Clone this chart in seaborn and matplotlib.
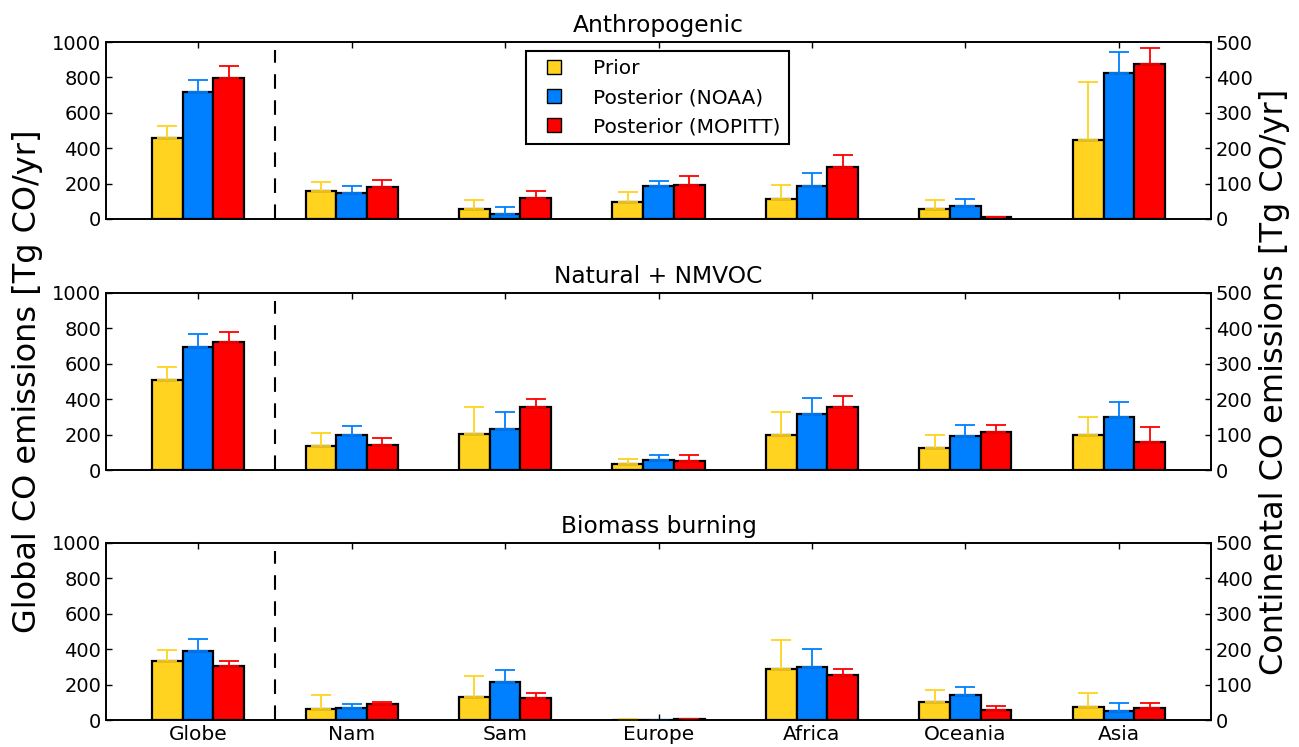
import numpy as np
import pandas as pd
import matplotlib
matplotlib.use("Agg")
import matplotlib.pyplot as plt
import seaborn as sns
from matplotlib.lines import Line2D

# ---------------- data ----------------
regions = ["Globe", "Nam", "Sam", "Europe", "Africa", "Oceania", "Asia"]
series = ["Prior", "Posterior (NOAA)", "Posterior (MOPITT)"]
panel_titles = ["Anthropogenic", "Natural + NMVOC", "Biomass burning"]
colors = ["#FFD320", "#0080FF", "#FF0000"]

# Globe values on the left axis (global), others on the right axis (continental)
anthro_prior = [458, 80, 29, 47, 56, 27, 222]
anthro_prior_err = [70, 24, 24, 29, 39, 26, 166]
anthro_noaa = [715, 74, 13, 93, 93, 37, 413]
anthro_noaa_err = [72, 19, 22, 15, 36, 19, 58]
anthro_mopitt = [795, 91, 58, 96, 147, 5, 437]
anthro_mopitt_err = [67, 20, 20, 25, 33, 2, 47]

natural_prior = [507, 69, 101, 16, 100, 61, 100]
natural_prior_err = [75, 36, 76, 14, 64, 37, 50]
natural_noaa = [695, 100, 115, 27, 157, 95, 149]
natural_noaa_err = [76, 24, 49, 14, 46, 33, 44]
natural_mopitt = [722, 70, 177, 26, 177, 107, 80]
natural_mopitt_err = [56, 19, 24, 16, 33, 20, 42]

biomass_prior = [333, 32, 65, 1, 143, 50, 37]
biomass_prior_err = [61, 39, 58, 1, 83, 35, 39]
biomass_noaa = [390, 35, 107, 0.5, 150, 72, 25]
biomass_noaa_err = [66, 10, 34, 0.5, 51, 20, 22]
biomass_mopitt = [305, 44, 61, 1.5, 128, 29, 35]
biomass_mopitt_err = [26, 8, 14, 1.5, 16, 11, 14]

left_ticks = [0, 200, 400, 600, 800, 1000]
right_ticks = [0, 100, 200, 300, 400, 500]

panels = [
    ([anthro_prior, anthro_noaa, anthro_mopitt],
     [anthro_prior_err, anthro_noaa_err, anthro_mopitt_err]),
    ([natural_prior, natural_noaa, natural_mopitt],
     [natural_prior_err, natural_noaa_err, natural_mopitt_err]),
    ([biomass_prior, biomass_noaa, biomass_mopitt],
     [biomass_prior_err, biomass_noaa_err, biomass_mopitt_err]),
]

# ---------------- style ----------------
sns.set_style("ticks")
plt.rcParams["font.family"] = ["DejaVu Sans"]
plt.rcParams.update({
    "xtick.direction": "in", "ytick.direction": "in",
    "xtick.major.size": 4, "ytick.major.size": 4,
    "xtick.major.width": 1, "ytick.major.width": 1,
    "axes.linewidth": 1.2, "axes.edgecolor": "black",
    "xtick.color": "black", "ytick.color": "black",
    "text.color": "black", "axes.labelcolor": "black",
    "xtick.labelcolor": "black", "ytick.labelcolor": "black",
})

W, H = 1299, 747
fig = plt.figure(figsize=(W / 100, H / 100), dpi=100)

left, right = 106 / W, 1211 / W
tops = [42, 293, 543]
ph = 177

width = 0.6
bar_w = width / len(series)
offsets = (np.arange(len(series)) - (len(series) - 1) / 2) * bar_w

for p, (vals, errs) in enumerate(panels):
    top = tops[p]
    ax = fig.add_axes([left, 1 - (top + ph) / H, right - left, ph / H])
    ax2 = ax.twinx()

    rows = []
    for s, v, e in zip(series, vals, errs):
        for r, vv, ee in zip(regions, v, e):
            rows.append({"region": r, "series": s, "value": vv, "err": ee})
    df = pd.DataFrame(rows)
    glob = df[df.region == "Globe"]
    cont = df[df.region != "Globe"]

    common = dict(x="region", y="value", hue="series", order=regions,
                  hue_order=series, palette=colors, width=width,
                  edgecolor="black", linewidth=1.6, errorbar=None,
                  saturation=1, legend=False)
    sns.barplot(data=glob, ax=ax, **common)
    sns.barplot(data=cont, ax=ax2, **common)

    xs = np.arange(len(regions))
    for k, (v, e) in enumerate(zip(vals, errs)):
        v = np.asarray(v, float)
        e = np.asarray(e, float)
        ax.errorbar(xs[:1] + offsets[k], v[:1], yerr=[np.zeros(1), e[:1]],
                    fmt="none", ecolor=colors[k], elinewidth=1.3,
                    capsize=7.5, capthick=1.3, zorder=1)
        ax2.errorbar(xs[1:] + offsets[k], v[1:], yerr=[np.zeros(len(v) - 1), e[1:]],
                     fmt="none", ecolor=colors[k], elinewidth=1.3,
                     capsize=7.5, capthick=1.3, zorder=1)

    ax.plot([0.5, 0.5], [0, 955], color="black", lw=1.5, dashes=(7, 5.5))

    ax.set_xlim(-0.6, len(regions) - 0.4)
    ax.set_ylim(0, 1000)
    ax2.set_ylim(0, 500)
    ax.set_yticks(left_ticks)
    ax2.set_yticks(right_ticks)
    ax.set_xticks(xs)
    ax.set_xticklabels(regions, fontsize=14.5)
    ax.tick_params(axis="x", top=True, bottom=True, direction="in",
                   labelbottom=(p == 2))
    ax.tick_params(axis="y", left=True, right=False, labelsize=14)
    ax2.tick_params(axis="y", right=True, left=False, labelsize=14, direction="in")
    ax.set_xlabel("")
    ax.set_ylabel("")
    ax2.set_ylabel("")
    ax2.set_xlabel("")
    ax.set_title(panel_titles[p], fontsize=16.8, pad=7, color="black")
    for a in (ax, ax2):
        for sp in a.spines.values():
            sp.set_linewidth(1.2)
            sp.set_color("black")

    if p == 0:
        handles = [Line2D([], [], marker="s", ls="none", markersize=9.5,
                          markerfacecolor=c, markeredgecolor="black",
                          markeredgewidth=1) for c in colors]
        leg = ax2.legend(handles, series, loc="upper left",
                         bbox_to_anchor=(526 / W, 1 - 51 / H),
                         bbox_transform=fig.transFigure, borderaxespad=0,
                         frameon=True, fancybox=False, framealpha=1,
                         edgecolor="black", handlelength=2,
                         handletextpad=0.95, borderpad=0.4,
                         labelspacing=0.5, fontsize=14.5, numpoints=1)
        leg.get_frame().set_linewidth(1.5)
        for t in leg.get_texts():
            t.set_color("black")

center_y = 1 - (tops[1] + ph / 2) / H
fig.text(28 / W, center_y, "Global CO emissions [Tg CO/yr]", rotation=90,
         ha="center", va="center", fontsize=23, color="black")
fig.text(1275 / W, center_y, "Continental CO emissions [Tg CO/yr]", rotation=90,
         ha="center", va="center", fontsize=23, color="black")

fig.savefig("out.png", dpi=100)
